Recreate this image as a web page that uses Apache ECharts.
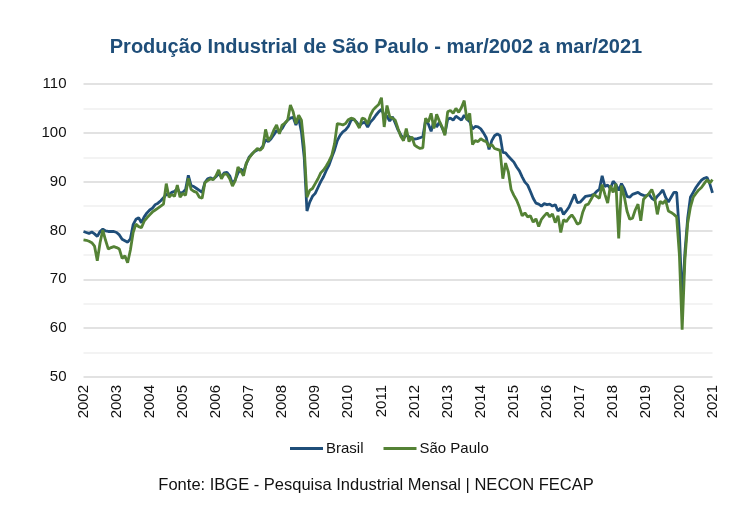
<!DOCTYPE html>
<html>
<head>
<meta charset="utf-8">
<script src="https://cdn.jsdelivr.net/npm/echarts@6/dist/echarts.min.js"></script>
<style>
html,body{margin:0;padding:0;background:#fff;}
#chart{width:752px;height:512px;}
</style>
</head>
<body>
<div id="chart"></div>
<script>
// Tick labels (years) and month names used to build monthly categories mar/2002 .. mar/2021
const yearLabels = ['2002','2003','2004','2005','2006','2007','2008','2009','2010','2011','2012','2013','2014','2015','2016','2017','2018','2019','2020','2021'];
const monthNames = ['jan','fev','mar','abr','mai','jun','jul','ago','set','out','nov','dez'];

// Brasil (monthly index, mar/2002 .. mar/2021)
const brasil = [
79.8,79.6,79.4,79.7,79.3,78.8,79.8,80.3,79.9,79.8,79.8,79.8,
79.6,79.1,78.2,77.9,77.6,78.3,81.2,82.3,82.6,81.6,82.8,83.6,
84.2,84.6,85.3,85.6,86.1,86.7,87.4,87.3,87.8,88.0,88.6,87.6,
87.8,88.4,91.3,89.2,89.0,88.6,88.2,87.8,89.8,90.6,90.8,90.5,
91.0,91.6,91.0,91.8,91.9,91.2,89.6,90.4,91.8,92.6,92.0,93.6,
95.0,95.6,96.2,96.5,96.6,97.2,98.6,98.2,98.8,99.6,100.5,100.2,
100.9,101.9,102.6,103.0,103.2,101.6,103.0,100.2,95.0,84.0,85.8,87.0,
87.6,88.8,90.0,91.0,92.3,93.4,95.0,96.5,98.4,99.5,100.2,100.6,
101.3,102.6,102.8,102.2,101.4,102.0,102.2,101.2,102.2,102.8,103.6,104.3,
104.8,103.6,103.4,102.4,103.3,102.0,100.6,99.6,98.8,99.6,99.2,98.9,
98.7,98.8,99.0,99.2,102.6,101.8,100.3,102.4,101.2,102.2,101.0,99.8,
102.8,103.0,102.6,103.4,103.0,102.6,103.6,102.8,102.3,100.8,101.3,101.2,
100.8,100.0,99.0,96.6,98.4,99.4,99.8,99.4,96.0,95.9,95.2,94.6,
94.0,93.0,92.2,91.0,89.9,89.3,88.0,86.6,85.6,85.4,85.0,85.5,
85.3,85.4,85.0,85.3,84.0,84.6,83.3,84.0,84.8,86.1,87.4,85.7,
85.8,86.4,87.0,87.1,87.2,87.4,88.0,88.4,91.2,89.0,89.3,88.6,
90.1,89.4,88.2,89.6,88.6,87.0,86.8,87.4,87.6,87.8,87.4,87.2,
87.1,87.4,86.6,86.2,87.0,87.6,88.3,86.8,85.8,86.8,87.8,87.8,
79.5,65.3,75.5,82.5,86.8,87.8,88.8,89.6,90.3,90.7,90.9,89.6,87.7
];

// São Paulo (monthly index, mar/2002 .. mar/2021)
const saoPaulo = [
78.1,78.0,77.8,77.5,76.8,73.8,77.5,80.1,78.0,76.2,76.5,76.7,
76.5,76.2,74.3,74.8,73.4,76.0,79.6,81.3,80.8,80.6,81.9,82.6,
83.2,83.8,84.2,84.6,85.0,85.4,89.6,86.8,87.4,87.0,89.3,86.8,
87.6,87.2,90.7,88.4,88.0,87.8,86.8,86.6,89.8,90.2,90.6,90.4,
91.2,92.4,90.6,91.6,91.5,90.6,89.1,90.2,93.0,92.2,91.2,93.8,
94.8,95.6,96.2,96.8,96.4,97.0,100.7,98.4,99.2,100.6,101.6,99.8,
101.6,102.0,102.6,105.7,104.3,101.9,103.6,102.6,97.0,86.8,88.2,88.6,
89.6,90.6,91.8,92.4,93.2,94.2,95.4,97.8,101.9,101.8,101.6,101.9,
102.7,103.0,102.8,102.0,101.0,103.0,102.8,101.8,103.6,104.7,105.3,105.8,
107.2,101.2,105.6,103.3,103.0,102.6,100.9,99.3,98.4,100.9,98.2,99.2,
97.5,97.1,96.8,96.9,103.0,102.2,104.0,100.9,103.8,102.4,101.2,99.5,
104.3,104.6,104.0,105.0,104.2,105.2,106.6,102.6,104.0,97.6,98.4,98.2,
98.8,98.4,98.2,97.2,97.6,96.8,96.6,96.4,90.6,93.8,92.0,88.4,
87.2,86.2,84.8,83.0,83.6,82.8,83.0,81.7,82.4,80.8,82.3,83.0,
83.6,82.8,83.4,81.6,83.0,79.6,82.2,81.8,82.6,83.2,82.4,81.3,
81.6,83.8,85.2,85.4,86.4,87.4,87.0,86.6,89.4,87.4,85.6,89.2,
87.8,89.6,78.4,89.2,87.0,84.0,82.3,82.5,84.2,85.4,82.0,86.4,
87.0,87.6,88.4,86.8,83.3,86.0,85.5,86.2,84.0,83.7,83.3,82.8,
75.0,59.7,74.0,81.5,84.8,86.8,87.6,88.3,88.8,89.6,90.4,89.7,90.4
];

// Monthly category labels built from the tick-label years
const categories = [];
for (let y = 0; y < yearLabels.length; y++) {
  for (let m = 0; m < 12; m++) {
    if (y === 0 && m < 2) continue;
    if (y === yearLabels.length - 1 && m > 2) break;
    categories.push(monthNames[m] + '/' + yearLabels[y]);
  }
}

const chart = echarts.init(document.getElementById('chart'), null, {renderer: 'canvas'});
const FONT = '"Liberation Sans", Arial, sans-serif';
chart.setOption({
  animation: false,
  backgroundColor: '#ffffff',
  title: [
    {
      text: 'Produção Industrial de São Paulo - mar/2002 a mar/2021',
      left: 'center', top: 37, padding: 0,
      textStyle: {fontFamily: FONT, fontSize: 20, fontWeight: 'bold', color: '#1f4e79'}
    },
    {
      text: 'Fonte: IBGE - Pesquisa Industrial Mensal | NECON FECAP',
      left: 'center', top: 477, padding: 0,
      textStyle: {fontFamily: FONT, fontSize: 16.5, fontWeight: 'normal', color: '#111'}
    }
  ],
  legend: {
    data: ['Brasil', 'São Paulo'],
    left: 290, top: 441, padding: 0,
    icon: 'rect', itemWidth: 33, itemHeight: 3, itemGap: 20,
    textStyle: {fontFamily: FONT, fontSize: 15, color: '#111', padding: [0,0,0,-2]}
  },
  grid: {left: 83.5, right: 39.5, top: 84, bottom: 135, containLabel: false},
  xAxis: {
    type: 'category',
    data: categories,
    boundaryGap: false,
    axisLine: {show: false},
    axisTick: {show: false},
    splitLine: {show: false},
    axisLabel: {
      interval: 11, rotate: 90, margin: 8,
      fontFamily: FONT, fontSize: 15, color: '#111',
      formatter: function (v) { return v.split('/')[1]; }
    }
  },
  yAxis: {
    type: 'value',
    min: 50, max: 110, interval: 10,
    axisLine: {show: false},
    axisTick: {show: false},
    axisLabel: {fontFamily: FONT, fontSize: 15, color: '#111', margin: 17},
    splitLine: {show: true, lineStyle: {color: '#d9d9d9', width: 1.5}},
    minorTick: {show: false, splitNumber: 2},
    minorSplitLine: {show: true, lineStyle: {color: '#efefef', width: 1.5}}
  },
  series: [
    {
      name: 'Brasil', type: 'line', data: brasil,
      showSymbol: false, symbol: 'none', smooth: false,
      lineStyle: {color: '#1f4e79', width: 2.8},
      itemStyle: {color: '#1f4e79'}
    },
    {
      name: 'São Paulo', type: 'line', data: saoPaulo,
      showSymbol: false, symbol: 'none', smooth: false,
      lineStyle: {color: '#548235', width: 2.8},
      itemStyle: {color: '#548235'}
    }
  ]
});
</script>
</body>
</html>
